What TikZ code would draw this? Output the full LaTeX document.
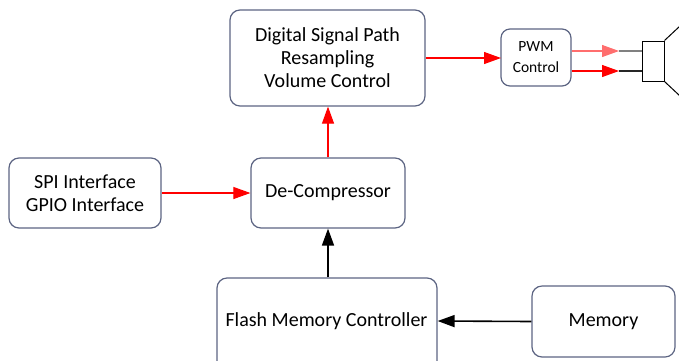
\documentclass[tikz,border=0pt]{standalone}
\usepackage{fontspec}
\setmainfont{Carlito}
\usetikzlibrary{arrows.meta}
\definecolor{boxline}{HTML}{5C6482}
\definecolor{lightred}{HTML}{FF6E6E}
\tikzset{
  blk/.style={draw=boxline, line width=1.2pt, rounded corners=10pt, align=center, inner sep=0pt, font=\fontsize{20}{23}\selectfont},
  redarr/.style={draw=red, line width=1.1pt, -{Triangle[length=17pt,width=12pt]}, fill=red},
  blkarr/.style={draw=black, line width=1.6pt, -{Triangle[length=17pt,width=12pt]}},
}
\begin{document}
\begin{tikzpicture}[x=1pt,y=-1pt]
\useasboundingbox (0,0) rectangle (679,360);
\clip (0,0) rectangle (679,360);
\node[blk, minimum width=195pt, minimum height=96pt] (dsp) at (327.5,58) {Digital Signal Path\\Resampling\\Volume Control};
\node[blk, minimum width=70pt, minimum height=57pt, rounded corners=9pt, font=\fontsize{15.5}{21}\selectfont] (pwm) at (536,57.5) {PWM\\Control};
\node[blk, minimum width=152pt, minimum height=70pt] (spi) at (85,193) {SPI Interface\\GPIO Interface};
\node[blk, minimum width=154pt, minimum height=70pt] (dec) at (328,193) {De-Compressor};
\node[blk, minimum width=220pt, minimum height=100pt] (fl) at (327,328) {};
\node[font=\fontsize{20}{23}\selectfont, inner sep=0pt] (flt) at (326.5,321) {Flash Memory Controller};
\node[blk, minimum width=143pt, minimum height=71pt] (mem) at (603.5,321.5) {Memory};
% speaker
\node[draw=black, line width=1pt, minimum width=22pt, minimum height=40pt, inner sep=0pt] (spk) at (653,61) {};
\coordinate (c1) at (680,26);
\coordinate (c2) at (680,96);
\draw[line width=1pt] (spk.north east) -- (c1);
\draw[line width=1pt] (spk.south east) -- (c2);
% connectors
\coordinate (t1) at (619,51);
\coordinate (t2) at (619,71);
\coordinate (p0) at (501,58);
\draw[redarr, draw=lightred] (pwm.east |- t1) -- (t1);
\draw[redarr] (pwm.east |- t2) -- (t2);
\draw[line width=1.3pt, gray] (t1) -- (spk.west |- t1);
\draw[line width=1.3pt, black!85] (t2) -- (spk.west |- t2);
\draw[redarr] (dsp.east |- p0) -- (p0);
\draw[redarr] (spi.east) -- (dec.west);
\draw[redarr] (dec.north) -- (dsp.south -| dec.north);
\draw[blkarr] (fl.north -| dec.south) -- (dec.south);
\draw[blkarr] (mem.west) -- (fl.east |- flt.east);
\end{tikzpicture}
\end{document}
